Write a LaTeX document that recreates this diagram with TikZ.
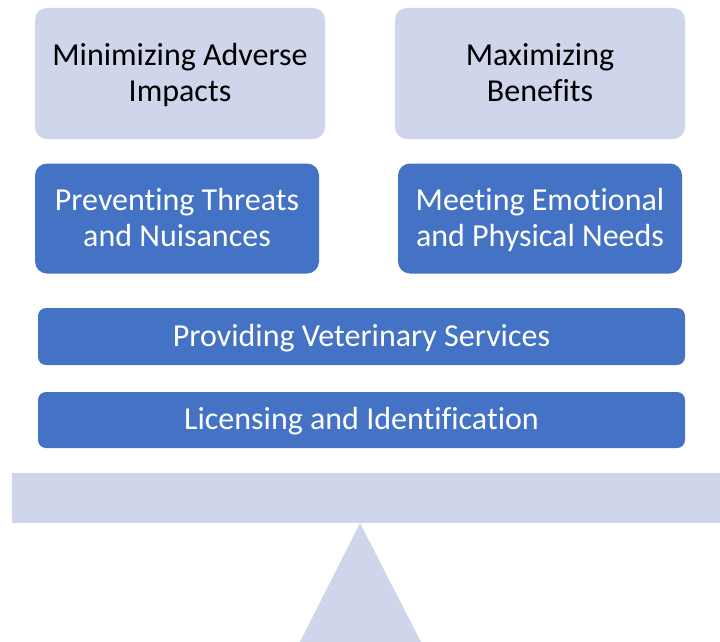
\documentclass[tikz,border=0pt]{standalone}
\usepackage{fontspec}
\setmainfont[RawFeature={-liga;-clig;-calt;-rlig;-dlig}]{Carlito}
\definecolor{paleblue}{HTML}{CFD5EA}
\definecolor{deepblue}{HTML}{4472C4}
% lower a label slightly while keeping its box size
\newcommand{\droptext}[1]{\raisebox{-2.5pt}[\height][\depth]{\begin{tabular}{@{}c@{}}#1\end{tabular}}}
% plain "t" followed by "i", with no ligature
\newcommand{\tii}{t\kern0pt i}
\begin{document}
\begin{tikzpicture}[x=1pt,y=-1pt,
  goalbox/.style={fill=paleblue, draw=none, rounded corners=12pt, align=center,
    text=black, font=\fontsize{32}{36}\selectfont, inner sep=0pt},
  pillar/.style={fill=deepblue, draw=none, rounded corners=12pt, align=center,
    text=white, font=\fontsize{32}{36}\selectfont, inner sep=0pt},
  layer/.style={fill=deepblue, draw=none, rounded corners=8pt, align=center,
    text=white, font=\fontsize{32}{36}\selectfont, inner sep=0pt}]
\useasboundingbox (0,0) rectangle (720,642);
% top goals
\node[goalbox, minimum width=290pt, minimum height=131pt] (minimize) at (180,73.5) {\droptext{Minimizing Adverse\\Impacts}};
\node[goalbox, minimum width=290pt, minimum height=131pt] (maximize) at (540,73.5) {\droptext{Maximizing\\Benefits}};
% pillars
\node[pillar, minimum width=284pt, minimum height=110pt] (prevent) at (177,218.5) {\droptext{Preven\tii ng Threats\\and Nuisances}};
\node[pillar, minimum width=284pt, minimum height=110pt] (meet) at (540,218.5) {\droptext{Mee\tii ng Emo\tii onal\\and Physical Needs}};
% foundation layers
\node[layer, minimum width=647pt, minimum height=57pt] (vet) at (361.5,336.5) {\droptext{Providing Veterinary Services}};
\node[layer, minimum width=647pt, minimum height=56pt] (license) at (361.5,420) {\droptext{Licensing and Iden\tii fica\tii on}};
% balance beam and fulcrum
\fill[paleblue] (12,473) rectangle (720,523);
\fill[paleblue] (360,523) -- (300,642) -- (421,642) -- cycle;
\end{tikzpicture}
\end{document}
